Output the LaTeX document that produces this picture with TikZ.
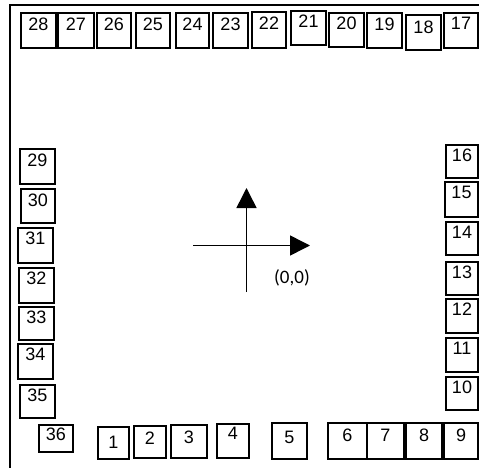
\documentclass[tikz,border=0pt]{standalone}
\usepackage{fontspec}
\setmainfont{Liberation Sans}
\newfontfamily\lblfont{Carlito}
\usetikzlibrary{arrows.meta}
\tikzset{
  pinbx/.style={draw=black, line width=1.3pt, rectangle, inner xsep=0pt, outer sep=0pt,
    font=\fontsize{18}{20}\selectfont, align=center},
  frameline/.style={draw=black, line width=1.2pt},
  axisline/.style={draw=black, line width=1.5pt, -{Triangle[length=20pt,width=20pt]}},
}
\newcommand\pinbox[6]{%
  \pgfmathsetmacro\pbw{#4-#2}%
  \pgfmathsetmacro\pbh{#5-#3}%
  \pgfmathsetmacro\pbd{#5-#3-13-2*#6}%
  \node[pinbx, minimum width=\pbw pt, minimum height=\pbh pt, inner ysep=#6pt,
        text height=13pt, text depth=\pbd pt, anchor=north west] (p#1) at (#2,#3) {#1};}
\begin{document}
\begin{tikzpicture}[x=1pt,y=-1pt]
\useasboundingbox (0,0) rectangle (479,468);
% outer frame
\coordinate (fa) at (10,468);
\coordinate (fb) at (10,5);
\coordinate (fc) at (479,5);
\draw[frameline] (fa) -- (fb) -- (fc);
% top row
\pinbox{28}{21}{13}{56}{48}{5}
\pinbox{27}{58}{13}{94}{48}{5}
\pinbox{26}{97}{13}{131}{48}{5}
\pinbox{25}{136}{13}{170}{48}{5}
\pinbox{24}{176}{13}{209}{48}{5}
\pinbox{23}{213}{13}{248}{48}{5}
\pinbox{22}{252}{12}{286}{48}{5}
\pinbox{21}{291}{11}{326}{45}{4}
\pinbox{20}{329}{13}{364}{47}{4}
\pinbox{19}{367}{13}{402}{48}{5}
\pinbox{18}{406}{15}{441}{50}{6}
\pinbox{17}{444}{13}{478}{48}{4}
% left column
\pinbox{29}{20}{149}{55}{184}{4}
\pinbox{30}{21}{189}{55}{223}{4}
\pinbox{31}{18}{228}{53}{263}{3}
\pinbox{32}{19}{268}{54}{303}{3}
\pinbox{33}{19}{307}{54}{340}{3}
\pinbox{34}{18}{344}{53}{379}{3}
\pinbox{35}{20}{385}{55}{418}{3}
% right column
\pinbox{16}{446}{145}{478}{178}{3}
\pinbox{15}{445}{182}{478}{217}{3}
\pinbox{14}{446}{222}{478}{255}{3}
\pinbox{13}{446}{262}{478}{295}{3}
\pinbox{12}{446}{299}{478}{333}{3}
\pinbox{11}{446}{338}{478}{372}{3}
\pinbox{10}{446}{377}{478}{410}{3}
% bottom row
\pinbox{36}{39}{425}{73}{452}{2}
\pinbox{1}{98}{427}{129}{459}{8}
\pinbox{2}{134}{426}{166}{458}{5}
\pinbox{3}{171}{425}{207}{458}{5}
\pinbox{4}{217}{424}{249}{458}{2}
\pinbox{5}{272}{423}{307}{459}{7}
\pinbox{6}{328}{423}{367}{459}{5}
\pinbox{7}{367}{423}{404}{459}{5}
\pinbox{8}{406}{423}{442}{459}{5}
\pinbox{9}{444}{423}{478}{459}{5}
% axes
\coordinate (vb) at (246.5,292);
\coordinate (vt) at (246.5,188);
\coordinate (hl) at (193,245.5);
\coordinate (hr) at (310,245.5);
\draw[axisline] (vb) -- (vt);
\draw[axisline] (hl) -- (hr);
\node[font=\lblfont\fontsize{19}{21}\selectfont, inner sep=0pt] (orig) at (292,278) {(0,0)};
\end{tikzpicture}
\end{document}
